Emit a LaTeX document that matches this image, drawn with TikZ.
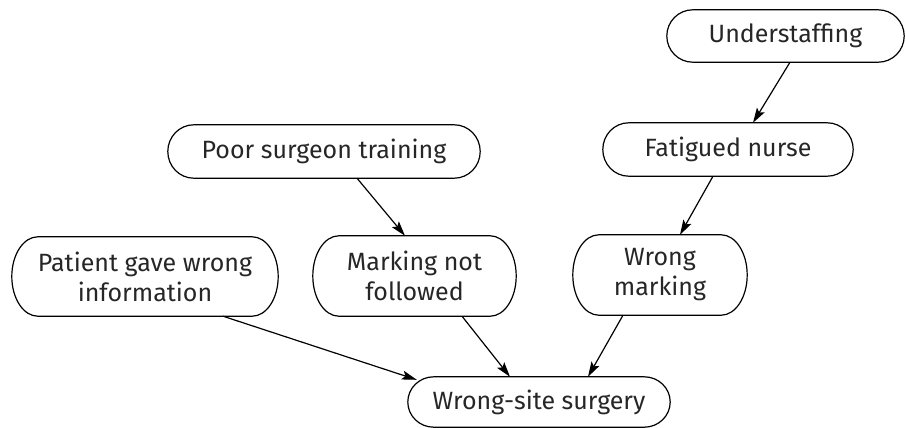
\documentclass[tikz,border=0pt]{standalone}
\usepackage{fontspec}
\setmainfont{Fira Sans}
\usetikzlibrary{arrows.meta,calc}
\tikzset{
  box/.style={draw=none, align=center, inner sep=0pt, font=\fontsize{25}{30}\selectfont, text=black!85},
  conn/.style={line width=1.2pt, -{Stealth[length=15pt,width=9pt,inset=3pt]}},
  outline/.style={line width=1.2pt}
}
\newcommand\stadiumoutline[1]{%
  \draw[outline] let \p1=(#1.north west), \p2=(#1.south east), \n1={(\y1-\y2)/2} in
    ($(\x1,\y1)+(26pt,0)$) -- ($(\x2,\y1)+(-26pt,0)$)
    arc[start angle=90, end angle=-90, x radius=26pt, y radius=\n1]
    -- ($(\x1,\y2)+(26pt,0)$)
    arc[start angle=270, end angle=90, x radius=26pt, y radius=\n1] -- cycle;}
\begin{document}
\begin{tikzpicture}[x=1pt,y=-1pt]
\useasboundingbox (0,0) rectangle (906,428);
\node[box, minimum width=237pt, minimum height=52pt] (U) at (785.5,36) {Understaffing};
\node[box, minimum width=250pt, minimum height=53pt] (F) at (728,149.5) {Fatigued nurse};
\node[box, minimum width=312pt, minimum height=53pt] (P) at (324,151.5) {Poor surgeon training};
\node[box, minimum width=266pt, minimum height=79pt] (I) at (145,276.5) {Patient gave wrong\\information};
\node[box, minimum width=203pt, minimum height=80pt] (M) at (414.5,276) {Marking not\\followed};
\node[box, minimum width=174pt, minimum height=80pt] (W) at (660,275) {Wrong\\marking};
\node[box, minimum width=262pt, minimum height=50pt] (S) at (539,402) {Wrong-site surgery};
\stadiumoutline{U}
\stadiumoutline{F}
\stadiumoutline{P}
\stadiumoutline{I}
\stadiumoutline{M}
\stadiumoutline{W}
\stadiumoutline{S}
\draw[conn] ([xshift=4.5pt]U.south) -- ([xshift=25pt]F.north);
\draw[conn] ([xshift=-15pt]F.south) -- ([xshift=20pt]W.north);
\draw[conn] ([xshift=33pt]P.south) -- ([xshift=-9.5pt]M.north);
\draw[conn] ([xshift=78pt]I.south) -- ([xshift=9pt,yshift=-3pt]S.north west);
\draw[conn] ([xshift=47.5pt]M.south) -- ([xshift=-29pt]S.north);
\draw[conn] ([xshift=-37pt]W.south) -- ([xshift=49pt]S.north);
\end{tikzpicture}
\end{document}
